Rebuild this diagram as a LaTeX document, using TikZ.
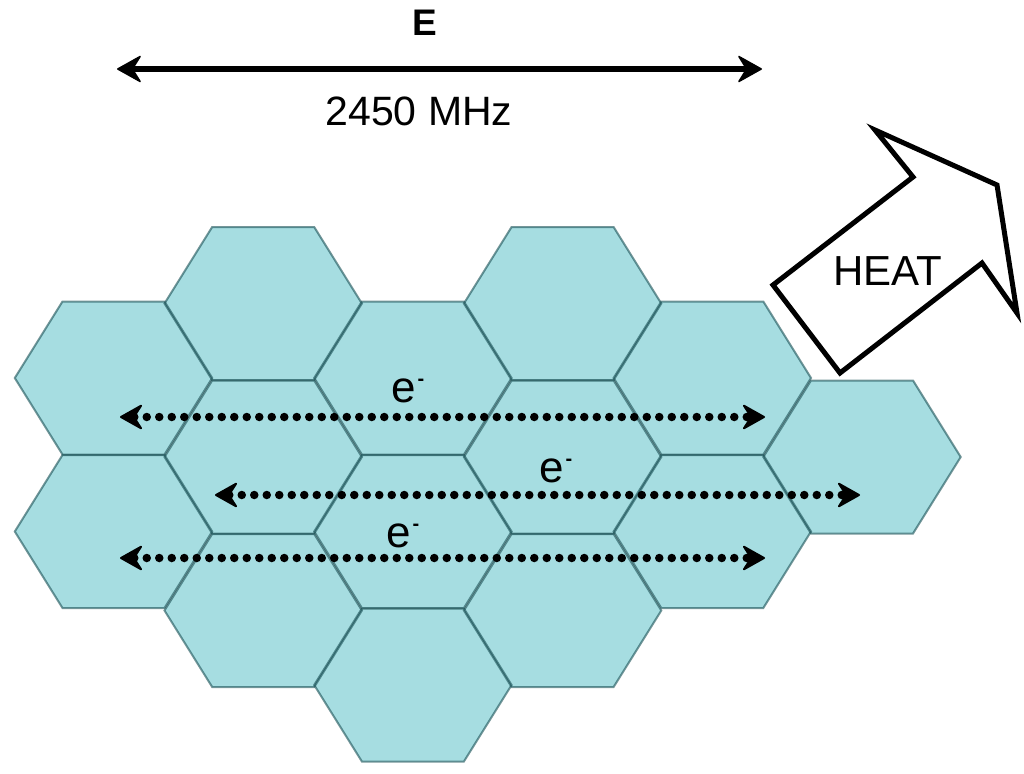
\documentclass[tikz,border=0pt]{standalone}
\usepackage{fontspec}
\setmainfont{Liberation Sans}
\usetikzlibrary{arrows.meta}
\definecolor{hexfill}{RGB}{166,221,225}
\definecolor{hexedge}{RGB}{25,80,85}
\newcommand\eminus{e\kern2pt\raisebox{17pt}{\fontsize{20}{20}\selectfont\bfseries -}}
\begin{document}
\begin{tikzpicture}[x=1pt,y=-1pt,
  hexshape/.style={fill=hexfill},
  hexline/.style={draw=hexedge,line width=2pt,draw opacity=0.6,line join=miter},
  fieldarrow/.style={line width=5.5pt,{Stealth[length=26pt,width=29pt,inset=9pt,line width=1.5pt,round]}-{Stealth[length=26pt,width=29pt,inset=9pt,line width=1.5pt,round]}},
  flowarrow/.style={line width=8.5pt,line cap=round,dash pattern=on 0pt off 12.5pt,{Stealth[length=25pt,width=28pt,inset=9pt,line width=2pt,round]}-{Stealth[length=25pt,width=28pt,inset=9pt,line width=2pt,round]}},
  heatarrow/.style={draw=black,fill=white,line width=5pt,line join=miter},
  lab/.style={inner sep=0pt,anchor=base,font=\fontsize{41}{48}\selectfont},
  elab/.style={inner sep=0pt,anchor=base west,font=\fontsize{44}{50}\selectfont}]
\useasboundingbox (0,0) rectangle (1024,773);
% hexagon cells
\foreach \cx/\cy in {113.5/378,113.5/531.5,
  263.2/303.5,263.2/457,263.2/610.5,
  412.9/378,412.9/531.5,412.9/685,
  562.6/303.5,562.6/457,562.6/610.5,
  712.3/378,712.3/531.5,
  862/457}{
  \fill[hexshape] ({\cx-98.7},\cy) -- ({\cx-51},{\cy-76.5}) -- ({\cx+51},{\cy-76.5}) -- ({\cx+98.7},\cy) -- ({\cx+51},{\cy+76.5}) -- ({\cx-51},{\cy+76.5}) -- cycle;
}
\foreach \cx/\cy in {113.5/378,113.5/531.5,
  263.2/303.5,263.2/457,263.2/610.5,
  412.9/378,412.9/531.5,412.9/685,
  562.6/303.5,562.6/457,562.6/610.5,
  712.3/378,712.3/531.5,
  862/457}{
  \draw[hexline] ({\cx-98.7},\cy) -- ({\cx-51},{\cy-76.5}) -- ({\cx+51},{\cy-76.5}) -- ({\cx+98.7},\cy) -- ({\cx+51},{\cy+76.5}) -- ({\cx-51},{\cy+76.5}) -- cycle;
}
% field arrow
\coordinate (fl) at (117,69);
\coordinate (fr) at (762,69);
\draw[fieldarrow] (fl) -- (fr);
\node[lab,font=\fontsize{37}{40}\bfseries\selectfont] (E) at (425,36) {E};
\node[lab] (freq) at (419,125) {2450 MHz};
% electron flow arrows
\coordinate (r1l) at (120,417);
\coordinate (r1r) at (765,417);
\coordinate (r2l) at (215,495);
\coordinate (r2r) at (860,495);
\coordinate (r3l) at (120,558);
\coordinate (r3r) at (765,558);
\draw[flowarrow] (r1l) -- (r1r);
\draw[flowarrow] (r2l) -- (r2r);
\draw[flowarrow] (r3l) -- (r3r);
\node[elab] (e1) at (391,402) {\eminus};
\node[elab] (e2) at (539,482) {\eminus};
\node[elab] (e3) at (386,547) {\eminus};
% heat arrow
\draw[heatarrow] (773,285) -- (913,177) -- (875,130) -- (997,185) -- (1017,313) -- (982,263) -- (840,373) -- cycle;
\node[lab,font=\fontsize{42}{48}\selectfont] (heat) at (888,285) {HEAT};
\end{tikzpicture}
\end{document}
